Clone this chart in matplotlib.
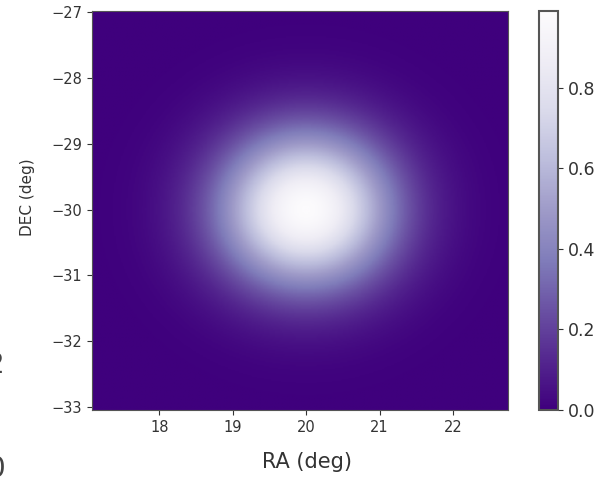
import numpy as np
import matplotlib.pyplot as plt

# parametros
ra_range = [17.08, 22.75]      # deg
dec_range = [-33.05, -26.98]   # deg
ra_c, dec_c = 20.0, -30.0      # centro do pico
sigma = 0.85                   # deg
peak = 0.99
cbar_ticks = [0.0, 0.2, 0.4, 0.6, 0.8]
ra_ticks = [18, 19, 20, 21, 22]
dec_ticks = [-33, -32, -31, -30, -29, -28, -27]

ra = np.linspace(ra_range[0], ra_range[1], 300)
dec = np.linspace(dec_range[0], dec_range[1], 300)
RA, DEC = np.meshgrid(ra, dec)
dens = peak * np.exp(-((RA - ra_c)**2 + (DEC - dec_c)**2) / (2 * sigma**2))

fig = plt.figure(figsize=(6.02, 4.88), dpi=100)
ax = fig.add_axes([92/602, 1 - 410/488, 416/602, 399/488])
cax = fig.add_axes([539/602, 1 - 410/488, 19/602, 399/488])

im = ax.imshow(dens, origin='lower', cmap='Purples_r', aspect='auto',
               vmin=0, vmax=dens.max(),
               extent=[ra_range[0], ra_range[1], dec_range[0], dec_range[1]])
ax.set_xlim(ra_range)
ax.set_ylim(dec_range)
ax.set_xticks(ra_ticks)
ax.set_yticks(dec_ticks)
ax.tick_params(labelsize=10.5, colors='#333333')
for s in ax.spines.values():
    s.set_color('#555555')

ax.set_xlabel('RA (deg)', fontsize=15, color='#333333')
ax.xaxis.set_label_coords(0.516, -0.105)
ax.set_ylabel('DEC (deg)', fontsize=11, color='#333333')
ax.yaxis.set_label_coords(-0.137, 0.534)

cb = fig.colorbar(im, cax=cax, ticks=cbar_ticks)
cb.ax.tick_params(labelsize=12.5, colors='#333333')
cb.outline.set_edgecolor('#555555')
cb.outline.set_linewidth(1.5)

# restos cortados da captura (o original ja vem recortado)
fig.text(331/602, 1 + 4.5/488, 'Template Density', fontsize=15.8, fontweight='bold',
         ha='center', va='baseline')
fig.text(5/602, 1 - 373/488, '2', fontsize=20, color='#444444', ha='right', va='baseline')
fig.text(5/602, 1 - 477/488, '0', fontsize=20, color='#444444', ha='right', va='baseline')

plt.savefig('out.png', dpi=100)
